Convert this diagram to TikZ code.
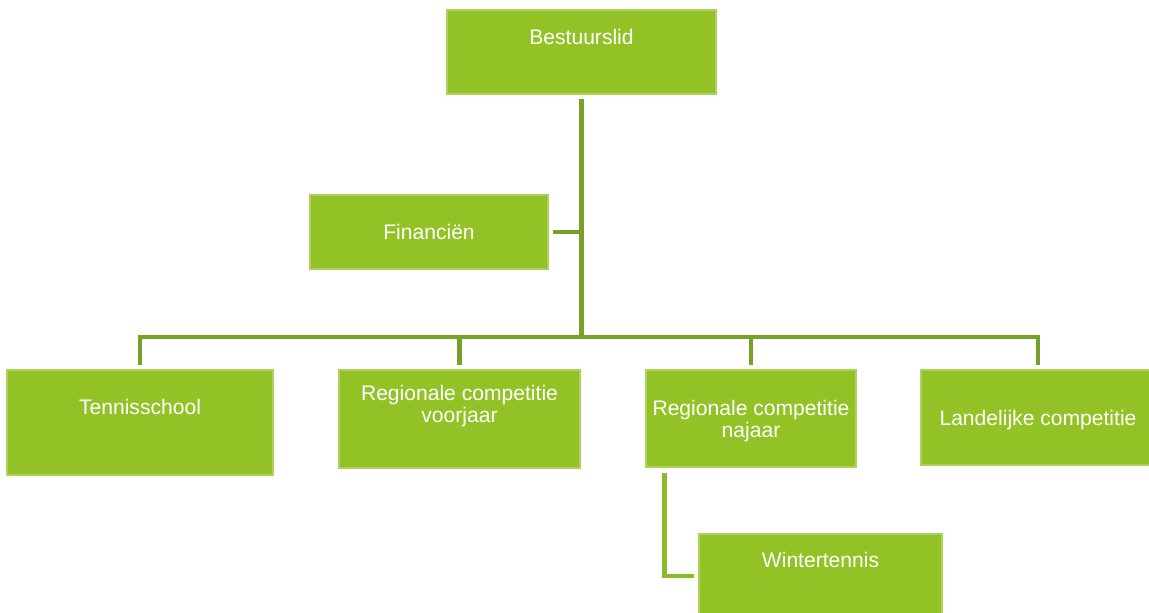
\documentclass[tikz,border=0pt]{standalone}
\usepackage{fontspec}
\setmainfont{Liberation Sans}
\usetikzlibrary{calc}
\definecolor{boxgreen}{HTML}{93C227}
\definecolor{linkgreen}{HTML}{77A12B}
\definecolor{sublinkgreen}{HTML}{8CBB2A}

\begin{document}
\begin{tikzpicture}[box/.style={draw=boxgreen!75!white,line width=0.3pt,fill=boxgreen,inner sep=0pt},
  txt/.style={text=white,font=\fontsize{6}{6.1}\selectfont,align=center,anchor=north,inner sep=0pt},
  link/.style={draw=linkgreen,line width=1.3pt},
  sublink/.style={draw=sublinkgreen,line width=1.2pt}]
  \useasboundingbox (0,0) rectangle (11.49,6.12);
  % boxes
  \node[box,minimum width=2.69cm,minimum height=0.84cm] (bestuur) at (5.815,5.60) {};
  \node[box,minimum width=2.38cm,minimum height=0.74cm] (fin) at (4.29,3.80) {};
  \node[box,minimum width=2.66cm,minimum height=1.05cm] (tennis) at (1.40,1.895) {};
  \node[box,minimum width=2.41cm,minimum height=0.98cm] (voorjaar) at (4.595,1.93) {};
  \node[box,minimum width=2.10cm,minimum height=0.97cm] (najaar) at (7.51,1.935) {};
  \node[box,minimum width=2.34cm,minimum height=0.95cm] (landelijk) at (10.38,1.945) {};
  \node[box,minimum width=2.43cm,minimum height=0.84cm] (wint) at (8.205,0.36) {};
  % texts
  \node[txt] (bestuurtxt) at (5.815,5.837) {Bestuurslid};
  \node[txt] (fintxt) at (4.29,3.887) {Financiën};
  \node[txt] (tennistxt) at (1.40,2.13) {Tennisschool};
  \node[txt] (voorjaartxt) at (4.595,2.27) {Regionale competitie\\voorjaar};
  \node[txt] (najaartxt) at (7.51,2.12) {Regionale competitie\\najaar};
  \node[txt] (landelijktxt) at (10.38,2.027) {Landelijke competitie};
  \node[txt] (winttxt) at (8.205,0.603) {Wintertennis};
  % connectors
  \coordinate (bus) at (bestuur.south |- 0,2.75);
  \draw[link,shorten <=0.4mm] (bestuur.south) -- (bus);
  \draw[link,shorten <=0.4mm] (fin.east) -- (fin.east -| bus);
  \draw[link,shorten <=0.4mm,shorten >=0.4mm] (tennis.north) |- (bus) -| (landelijk.north);
  \draw[link,shorten >=0.4mm] (voorjaar.north |- bus) -- (voorjaar.north);
  \draw[link,shorten >=0.4mm] (najaar.north |- bus) -- (najaar.north);
  \coordinate (subtop) at ($(najaar.south west)+(0.19,-0.05)$);
  \draw[sublink,shorten >=0.4mm] (subtop) |- (wint.west);
\end{tikzpicture}
\end{document}
